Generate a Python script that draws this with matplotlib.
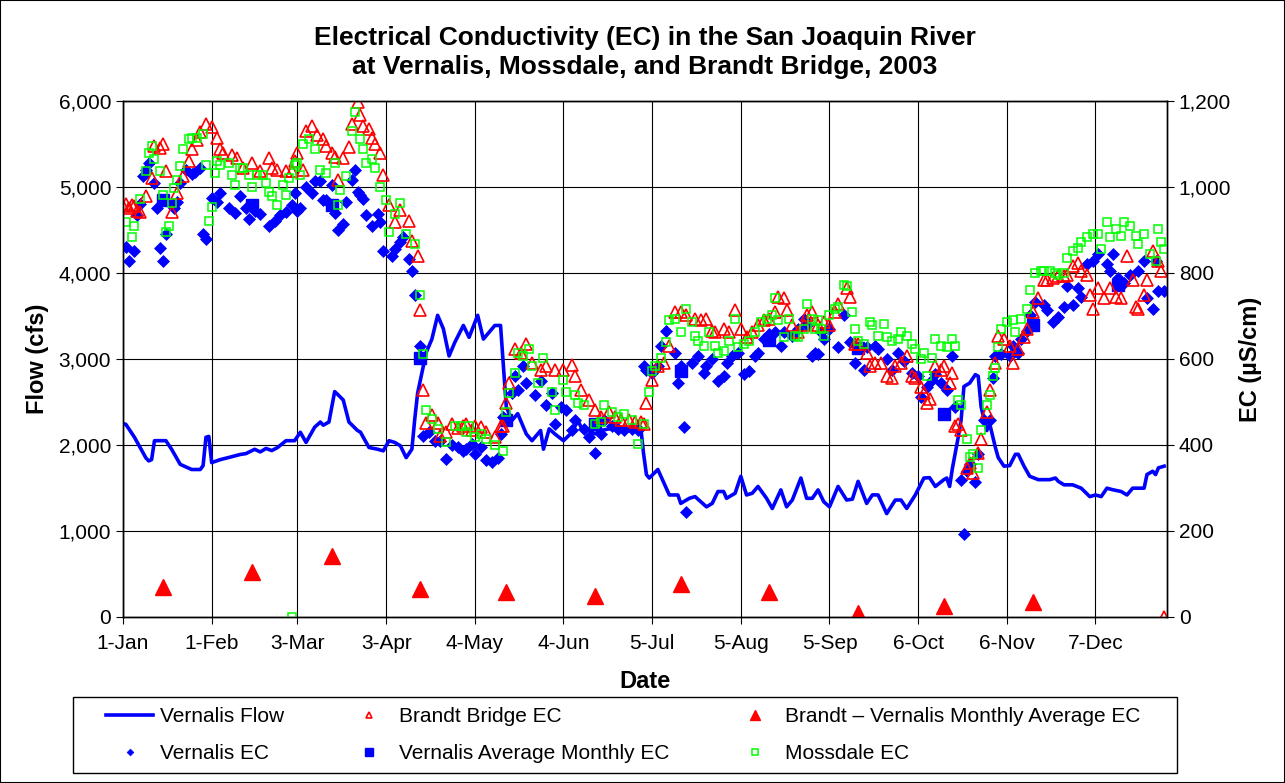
import matplotlib
matplotlib.use("Agg")
import matplotlib.pyplot as plt
from matplotlib.patches import Rectangle
from matplotlib.ticker import StrMethodFormatter

plt.rcParams['font.family'] = ['Liberation Sans', 'DejaVu Sans']

# x axis: day of year 2003 (0 = 1-Jan)
tick_days = [0, 31, 61, 92, 123, 154, 185, 216, 247, 278, 309, 340]
tick_labels = ['1-Jan', '1-Feb', '3-Mar', '3-Apr', '4-May', '4-Jun',
               '5-Jul', '5-Aug', '5-Sep', '6-Oct', '6-Nov', '7-Dec']

# Vernalis flow (cfs)
flow_day = [0, 1, 4, 6, 8, 9, 10, 11, 15, 17, 20, 24, 27, 28, 29, 30, 31, 34, 37, 41,
            43, 46, 48, 50, 52, 54, 57, 60, 62, 64, 67, 69, 70, 72, 74, 75, 77, 79, 82, 83,
            86, 89, 91, 93, 95, 97, 99, 101, 102, 103, 105, 106, 108, 110, 112, 114, 116, 119, 121, 124,
            126, 128, 130, 132, 133, 134, 136, 138, 140, 141, 143, 146, 147, 149, 151, 154, 157, 159, 161, 162,
            165, 167, 170, 172, 174, 177, 179, 181, 182, 183, 184, 187, 191, 194, 195, 198, 200, 204, 206, 208,
            210, 211, 214, 216, 218, 220, 222, 225, 227, 230, 232, 234, 237, 239, 241, 243, 245, 247, 250, 253,
            255, 257, 260, 262, 264, 267, 270, 272, 274, 277, 280, 282, 284, 287, 288, 289, 290, 292, 293, 294,
            296, 298, 299, 300, 302, 303, 305, 306, 308, 310, 312, 313, 315, 317, 320, 324, 326, 327, 329, 332,
            335, 338, 340, 342, 344, 346, 349, 351, 353, 357, 358, 360, 361, 362, 364]
flow_cfs = [2250, 2240, 2090, 1970, 1850, 1815, 1830, 2050, 2050, 1950, 1775, 1715, 1715, 1760, 2090, 2100, 1795, 1830, 1855, 1890,
            1900, 1950, 1920, 1960, 1935, 1970, 2050, 2050, 2148, 2030, 2207, 2267, 2230, 2267, 2621, 2590, 2523, 2267, 2168, 2150,
            1971, 1951, 1932, 2050, 2030, 1990, 1853, 1951, 2300, 2602, 2917, 3075, 3232, 3508, 3351, 3035, 3193, 3390, 3252, 3508,
            3232, 3311, 3390, 3390, 2917, 2444, 2286, 2365, 2207, 2128, 2050, 2168, 1951, 2188, 2128, 2050, 2148, 2286, 2150, 2188,
            2130, 2168, 2188, 2188, 2207, 2168, 2190, 2207, 1900, 1656, 1616, 1715, 1419, 1419, 1321, 1380, 1400, 1281, 1321, 1459,
            1459, 1380, 1439, 1636, 1419, 1439, 1518, 1380, 1262, 1478, 1281, 1360, 1616, 1380, 1380, 1478, 1340, 1281, 1518, 1360,
            1370, 1577, 1321, 1420, 1419, 1202, 1360, 1360, 1262, 1419, 1616, 1620, 1518, 1597, 1616, 1518, 1734, 2089, 2286, 2680,
            2720, 2818, 2800, 2444, 2168, 2247, 1971, 1853, 1754, 1760, 1892, 1892, 1754, 1636, 1597, 1597, 1616, 1577, 1537, 1537,
            1498, 1400, 1419, 1400, 1498, 1480, 1459, 1419, 1498, 1498, 1656, 1695, 1656, 1734, 1754]

# Vernalis EC (uS/cm)
vern_day = [1, 2, 4, 5, 6, 7, 8, 9, 11, 12, 13, 14, 15, 17, 18, 19, 20, 22, 24, 25,
            27, 28, 29, 31, 33, 34, 37, 39, 41, 43, 44, 46, 48, 51, 53, 55, 57, 59,
            60, 61, 62, 64, 66, 67, 69, 70, 71, 73, 74, 75, 77, 78, 80, 81, 82, 83, 84, 85,
            87, 89, 90, 91, 94, 95, 97, 98, 100, 101, 102, 104, 105, 107, 109, 111, 113, 115, 117, 119,
            120, 122, 123, 125, 127, 129, 131, 132, 133, 136, 137, 138, 140, 141, 144, 146, 148, 150, 151, 153,
            155, 157, 158, 161, 163, 165, 167, 168, 171, 173, 175, 178, 180, 182,
            183, 185, 187, 188, 190, 193, 194, 195, 196, 197, 199, 201, 203, 204, 206, 208, 210, 211, 213, 215,
            217, 219, 221, 222, 224, 226, 228, 230, 231, 234, 236, 238, 239, 241, 242,
            243, 244, 245, 247, 250, 252, 254, 256, 259, 260, 263, 264, 267, 269, 271, 273, 276, 278, 279, 281,
            283, 284, 286, 288, 290, 291, 293, 294, 295, 296, 298, 299, 301, 303, 304, 305,
            307, 310, 311, 313, 314, 316, 317, 318, 319, 322, 323, 325, 327, 329, 330, 332, 334, 335, 337, 339,
            341, 344, 345, 346, 348, 350, 352, 355, 357, 358, 360, 361, 362, 364]
vern_ec = [860, 828, 851, 935, 960, 1025, 1040, 1056, 1009, 950, 859, 828, 891, 960, 950, 965, 1009, 1040, 1030, 1035,
           1045, 891, 879, 975, 965, 985, 950, 940, 978, 950, 925, 945, 938, 910, 922, 935, 942, 958,
           985, 945, 950, 1000, 985, 1013, 1013, 970, 970, 1005, 940, 899, 914, 966, 1017, 1040, 989, 981, 973, 934,
           910, 938, 918, 851, 840, 855, 871, 883, 832, 804, 749, 631, 420, 430, 410, 410, 367, 400, 395, 386,
           390, 402, 380, 395, 365, 360, 370, 426, 465, 520, 560, 528, 583, 544, 516, 548, 493, 520, 449, 489,
           481, 434, 457, 438, 418, 382, 426, 457, 445, 438, 434, 438, 434, 583,
           575, 568, 583, 631, 666, 615, 544, 583, 441, 244, 591, 607, 568, 583, 599, 548, 560, 591, 607, 615,
           564, 572, 607, 615, 646, 658, 662, 631, 662, 654, 670, 694, 678, 607, 615,
           611, 662, 646, 670, 627, 702, 639, 591, 575, 627, 631, 623, 599, 575, 615, 595, 568, 560, 512, 536,
           552, 564, 544, 528, 607, 489, 319, 193, 339, 355, 315, 378, 457, 457, 556, 607,
           611, 607, 631, 615, 646, 666, 702, 678, 733, 725, 713, 686, 698, 721, 769, 725, 765, 745, 820, 828,
           844, 820, 804, 844, 788, 777, 796, 804, 828, 741, 717, 828, 757, 757]

# Brandt Bridge EC (uS/cm)
brandt_day = [0, 1, 2, 3, 4, 5, 6, 8, 10, 11, 13, 14, 15, 17, 19, 21, 23, 24, 26, 27,
              29, 31, 33, 34, 35, 38, 40, 42, 45, 48, 51, 52, 54, 57, 59,
              60, 61, 63, 64, 66, 68, 70, 71, 73, 74, 75, 77, 79, 80, 82, 83, 84, 86, 87, 88,
              90, 91, 93, 95, 97, 100, 101, 103, 104, 105, 106, 108, 110, 111, 113, 115, 117, 119,
              120, 122, 123, 125, 127, 130, 132, 133, 134, 135, 137, 139, 141, 143, 146, 148, 151, 154, 157, 158,
              160, 163, 165, 167, 170, 172, 174, 177, 179, 181, 182, 183,
              185, 187, 189, 191, 193, 195, 197, 200, 202, 204, 206, 207, 210, 212, 214, 216, 218, 220, 222, 224,
              226, 228, 229, 231, 232, 234, 236, 238, 239, 241, 243,
              245, 247, 249, 250, 253, 254, 256, 257, 260, 261, 263, 265, 267, 269, 270, 272, 274, 276, 277, 279,
              280, 281, 282, 284, 286, 287, 289, 290, 291, 292, 293, 295, 296, 297, 299, 300, 302, 303, 305,
              306, 308, 310, 311, 313, 315, 316, 318, 320, 322, 323, 325, 327, 329, 330, 332, 334, 335, 337, 338,
              339, 341, 343, 345, 347, 349, 351, 353, 354, 355, 357, 358, 360, 362, 363, 364]
brandt_ec = [955, 960, 950, 958, 955, 945, 942, 980, 1020, 1096, 1090, 1100, 1037, 942, 985, 1025, 1060, 1088, 1110, 1127,
             1147, 1140, 1115, 1088, 1080, 1075, 1068, 1045, 1056, 1037, 1068, 1045, 1040, 1037, 1037,
             1060, 1080, 1040, 1130, 1143, 1120, 1112, 1096, 1080, 1070, 1017, 1068, 1092, 1147, 1198, 1167, 1143, 1135, 1115, 1100,
             1080, 1029, 958, 918, 946, 922, 875, 840, 713, 527, 452, 469, 452, 422, 430, 450, 440, 445,
             450, 434, 445, 441, 430, 418, 445, 445, 497, 544, 623, 615, 635, 591, 575, 583, 575, 575, 587, 560,
             528, 505, 481, 465, 477, 465, 457, 457, 453, 453, 449, 497,
             552, 583, 591, 631, 710, 710, 702, 694, 690, 694, 666, 662, 670, 662, 714, 670, 650, 662, 678, 690,
             694, 710, 745, 741, 714, 678, 662, 678, 702, 710, 678,
             686, 678, 710, 729, 765, 745, 635, 635, 615, 583, 591, 591, 560, 556, 583, 591, 607, 560, 556, 536,
             520, 497, 508, 583, 575, 583, 544, 568, 445, 449, 434, 347, 359, 335, 382, 414, 477, 528, 591,
             654, 646, 631, 591, 623, 650, 670, 710, 741, 784, 784, 788, 792, 792, 796, 816, 824, 804, 796, 749,
             717, 765, 741, 765, 745, 741, 840, 784, 721, 717, 749, 784, 851, 828, 804, 0]

# Mossdale EC (uS/cm)
moss_day = [1, 3, 4, 6, 8, 9, 10, 11, 13, 14, 15, 16, 17, 18, 19, 20, 21, 23, 24, 26,
            28, 29, 30, 31, 32, 33, 34, 37, 38, 39, 41, 42, 44, 45, 47, 49, 50, 51, 52, 54,
            56, 57, 58, 59, 60, 61, 62, 63, 65, 67, 69, 71, 74, 75, 76, 78, 80, 81, 83, 84,
            85, 87, 88, 90, 92, 93, 95, 97, 99, 102, 104, 105, 106, 108, 110, 113, 116, 118,
            120, 121, 123, 125, 127, 130, 133, 134, 135, 137, 138, 140, 142, 143, 145, 147, 150, 151, 154, 155,
            158, 159, 161, 165, 167, 168, 171, 173, 175, 178, 180, 182,
            184, 185, 186, 188, 190, 191, 193, 195, 197, 199, 200, 201, 203, 205, 207, 208, 210, 212, 214, 215,
            217, 219, 221, 223, 225, 227, 228, 229, 231, 233, 235, 236, 238, 239, 241, 242, 243, 244,
            245, 247, 249, 250, 252, 253, 255, 256, 257, 259, 261, 262, 264, 266, 267, 269, 271, 272, 274, 276,
            277, 279, 280, 281, 283, 284, 286, 288, 290, 291, 292, 293, 295, 296, 297, 299, 300, 302, 303, 304,
            305, 306, 307, 309, 311, 312, 314, 316, 317, 319, 321, 322, 324, 326, 327, 329, 330, 332, 334, 335,
            337, 339, 341, 342, 344, 345, 347, 349, 350, 352, 354, 355, 357, 359, 361, 362, 363, 364]
moss_ec = [918, 883, 910, 973, 1037, 1080, 1096, 1064, 1037, 981, 895, 910, 962, 997, 1017, 1048, 1088, 1112, 1115, 1115,
           1123, 1052, 922, 954, 1033, 1060, 1052, 1056, 1029, 1005, 1045, 1045, 1029, 1001, 1029, 1029, 1009, 989, 978, 958,
           1005, 981, 1021, 0, 1050, 1056, 1029, 1100, 1112, 1088, 1040, 1033, 1056, 958, 993, 1025, 1131, 1175, 1112, 1088,
           1056, 1064, 1045, 1001, 970, 895, 938, 962, 891, 867, 749, 611, 481, 461, 438, 406, 445, 445,
           430, 445, 418, 425, 414, 400, 386, 477, 520, 568, 615, 607, 623, 583, 544, 603, 524, 481, 552, 524,
           516, 497, 493, 449, 453, 493, 477, 465, 473, 457, 402, 449,
           524, 572, 583, 603, 639, 690, 694, 662, 717, 686, 654, 643, 631, 662, 631, 615, 619, 643, 694, 627,
           635, 643, 662, 686, 694, 702, 741, 690, 650, 694, 654, 650, 670, 729, 694, 670, 690, 670,
           654, 702, 717, 721, 773, 769, 710, 670, 643, 635, 686, 678, 654, 682, 650, 643, 646, 662, 654, 635,
           623, 599, 615, 560, 603, 646, 631, 627, 646, 631, 505, 493, 414, 371, 378, 347, 434, 493, 516, 560,
           580, 627, 670, 686, 690, 662, 694, 717, 761, 800, 804, 804, 804, 800, 796, 800, 836, 851, 859, 871,
           883, 891, 891, 855, 918, 883, 903, 887, 918, 910, 887, 867, 891, 844, 828, 903, 871, 855]

# monthly averages (mid-month)
avg_day = [14, 45, 73, 104, 134, 165, 195, 226, 257, 287, 318, 348]
vern_avg_ec = [970, 958, 958, 603, 457, 449, 572, 645, 625, 473, 678, 773]
diff_day = [14, 45, 73, 104, 134, 165, 195, 226, 257, 287, 318]
diff_ec = [70, 105, 143, 65, 57, 49, 76, 57, 10, 25, 35]

BLUE = '#0000FF'
RED = '#FF0000'
GREEN = '#00FF00'

fig = plt.figure(figsize=(12.85, 7.83), dpi=100)
ax = fig.add_axes([123 / 1285, 166 / 783, 1044 / 1285, 516 / 783])
ax2 = ax.twinx()

h_flow, = ax.plot(flow_day, flow_cfs, color=BLUE, lw=2.6, label='Vernalis Flow')
ax.set_xlim(0, 365)
ax.set_ylim(0, 6000)
ax.set_yticks(range(0, 6001, 1000))
ax.yaxis.set_major_formatter(StrMethodFormatter('{x:,.0f}'))
ax.set_xticks(tick_days)
ax.set_xticklabels(tick_labels)
ax.grid(True, color='black', lw=0.8)
ax.set_axisbelow(True)

h_vern, = ax2.plot(vern_day, vern_ec, 'D', color=BLUE, ms=5.7, mec=BLUE, mew=0.5,
                   ls='none', label='Vernalis EC')
h_avg, = ax2.plot(avg_day, vern_avg_ec, 's', color=BLUE, ms=8.5, ls='none',
                  label='Vernalis Average Monthly EC')
h_brandt, = ax2.plot(brandt_day, brandt_ec, '^', mfc='none', mec=RED, mew=1.2, ms=8,
                     ls='none', label='Brandt Bridge EC')
h_diff, = ax2.plot(diff_day, diff_ec, '^', color=RED, ms=11.5, ls='none',
                   label='Brandt \u2013 Vernalis Monthly Average EC')
h_moss, = ax2.plot(moss_day, moss_ec, 's', mfc='none', mec=GREEN, mew=1.1, ms=6.2,
                   ls='none', label='Mossdale EC')
ax2.set_ylim(0, 1200)
ax2.set_yticks(range(0, 1201, 200))
ax2.yaxis.set_major_formatter(StrMethodFormatter('{x:,.0f}'))

for a in (ax, ax2):
    a.tick_params(labelsize=15, direction='out', length=5, width=0.8, colors='black')
    for s in a.spines.values():
        s.set_color('black')
        s.set_linewidth(1.0)
ax.tick_params(axis='x', pad=7)

fig.text(0.502, 0.933, 'Electrical Conductivity (EC) in the San Joaquin River\n'
         'at Vernalis, Mossdale, and Brandt Bridge, 2003',
         ha='center', va='center', fontsize=19, fontweight='bold', linespacing=1.28)
fig.text(0.502, 0.130, 'Date', ha='center', va='center', fontsize=17, fontweight='bold')
fig.text(0.029, 0.5415, 'Flow (cfs)', ha='center', va='center', rotation=90,
         fontsize=17, fontweight='bold')
fig.text(0.973, 0.5415, 'EC (\u00b5S/cm)', ha='center', va='center', rotation=90,
         fontsize=17, fontweight='bold')

handles = [h_flow, h_vern, h_brandt, h_avg, h_diff, h_moss]
fig.legend(handles, [h.get_label() for h in handles], ncol=3, loc='center',
           bbox_to_anchor=(0.485, 0.0613), frameon=False, fontsize=15,
           columnspacing=2.95, handlelength=2.3, handletextpad=0.3,
           labelspacing=0.85, markerscale=0.6)
fig.patches.append(Rectangle((73 / 1285, 10 / 783), 1104 / 1285, 76 / 783,
                             transform=fig.transFigure, fill=False,
                             edgecolor='black', lw=1.0))
fig.patches.append(Rectangle((0, 0), 1, 1, transform=fig.transFigure, fill=False,
                             edgecolor='black', lw=1.5))

fig.savefig('out.png', dpi=100)
